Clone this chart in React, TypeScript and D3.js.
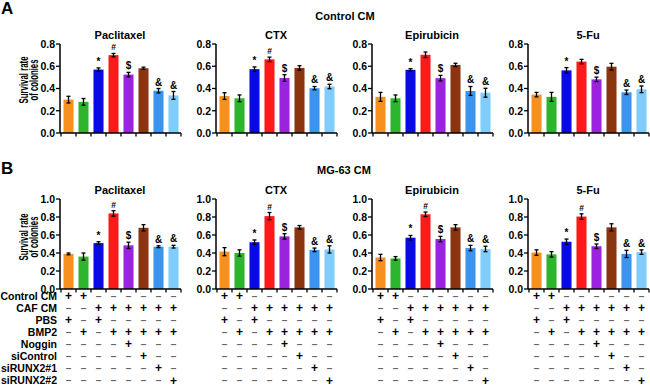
import React from "react";
import * as d3 from "d3";

// groups / treatments
const drugs = ["Paclitaxel", "CTX", "Epirubicin", "5-Fu"];
const conditions = ["Control CM", "CAF CM", "PBS", "BMP2", "Noggin", "siControl", "siRUNX2#1", "siRUNX2#2"];
const conditionSigns = [
  ["+", "+", "–", "–", "–", "–", "–", "–"],
  ["–", "–", "+", "+", "+", "+", "+", "+"],
  ["+", "–", "+", "–", "–", "–", "–", "–"],
  ["–", "+", "–", "+", "+", "+", "+", "+"],
  ["–", "–", "–", "–", "+", "–", "–", "–"],
  ["–", "–", "–", "–", "–", "+", "–", "–"],
  ["–", "–", "–", "–", "–", "–", "+", "–"],
  ["–", "–", "–", "–", "–", "–", "–", "+"],
];
const barColors = ["#f7901e", "#2db52d", "#0a0ae6", "#ff1a1a", "#9b22de", "#8b3510", "#3a95ee", "#80cdfb"];

// A: Control CM
const controlMeans = [
  [0.3, 0.28, 0.57, 0.7, 0.525, 0.582, 0.38, 0.338],
  [0.332, 0.312, 0.574, 0.662, 0.494, 0.585, 0.403, 0.418],
  [0.325, 0.312, 0.568, 0.703, 0.493, 0.612, 0.378, 0.362],
  [0.345, 0.325, 0.563, 0.642, 0.482, 0.596, 0.366, 0.393],
];
const controlErrs = [
  [0.03, 0.03, 0.015, 0.015, 0.02, 0.01, 0.02, 0.035],
  [0.03, 0.03, 0.02, 0.02, 0.03, 0.02, 0.015, 0.02],
  [0.04, 0.03, 0.01, 0.025, 0.025, 0.015, 0.04, 0.04],
  [0.02, 0.04, 0.025, 0.02, 0.02, 0.03, 0.02, 0.03],
];
const controlMarks = [
  ["", "", "*", "#", "$", "", "&", "&"],
  ["", "", "*", "#", "$", "", "&", "&"],
  ["", "", "*", "", "$", "", "&", "&"],
  ["", "", "*", "", "$", "", "&", "&"],
];

// B: MG-63 CM
const mgMeans = [
  [0.39, 0.36, 0.51, 0.84, 0.485, 0.68, 0.47, 0.47],
  [0.415, 0.4, 0.52, 0.81, 0.585, 0.685, 0.435, 0.44],
  [0.35, 0.34, 0.57, 0.83, 0.555, 0.685, 0.455, 0.445],
  [0.405, 0.385, 0.525, 0.805, 0.475, 0.685, 0.39, 0.41],
];
const mgErrs = [
  [0.01, 0.04, 0.015, 0.03, 0.035, 0.035, 0.01, 0.015],
  [0.045, 0.035, 0.025, 0.04, 0.03, 0.02, 0.02, 0.04],
  [0.035, 0.02, 0.025, 0.025, 0.03, 0.03, 0.03, 0.03],
  [0.03, 0.03, 0.03, 0.03, 0.025, 0.04, 0.04, 0.025],
];
const mgMarks = [
  ["", "", "*", "#", "$", "", "&", "&"],
  ["", "", "*", "#", "$", "", "&", "&"],
  ["", "", "*", "#", "$", "", "&", "&"],
  ["", "", "*", "#", "$", "", "&", "&"],
];

const ticksA = [0, 0.2, 0.4, 0.6, 0.8];
const ticksB = [0, 0.2, 0.4, 0.6, 0.8, 1.0];

const FONT = "'Liberation Sans', Arial, sans-serif";
const panelX = [60, 216, 372, 528];
const plotW = 120;
const fmt = d3.format(".1f");

function Panel({ x0, top, bottom, yMax, ticks, means, errs, marks, title }) {
  const x = d3.scaleBand().domain(d3.range(8)).range([x0 + 1, x0 + 1 + plotW]).paddingInner(0.33).paddingOuter(0.165);
  const y = d3.scaleLinear().domain([0, yMax]).range([bottom, top]);
  const step = x.step();
  const bounds = d3.range(9).map((i) => x0 + 1 + i * step);
  return (
    <g>
      <text x={x0 + 60} y={top - 5} textAnchor="middle" fontSize={11} fontWeight="bold">
        {title}
      </text>
      {means.map((v, i) => {
        const cx = x(i) + x.bandwidth() / 2;
        const e = errs[i];
        return (
          <g key={i}>
            <rect x={x(i)} y={y(v)} width={x.bandwidth()} height={bottom - y(v)} fill={barColors[i]} />
            <line x1={cx} x2={cx} y1={y(v - e)} y2={y(v + e)} stroke="#000" strokeWidth={1.3} />
            <line x1={cx - 2} x2={cx + 2} y1={y(v + e)} y2={y(v + e)} stroke="#000" strokeWidth={1.3} />
            <line x1={cx - 2} x2={cx + 2} y1={y(v - e)} y2={y(v - e)} stroke="#000" strokeWidth={1.3} />
            {marks[i] && (
              <text x={cx} y={y(v + e) - 3} textAnchor="middle" fontSize={marks[i] === "#" ? 8.5 : 10} fontWeight="bold">
                {marks[i]}
              </text>
            )}
          </g>
        );
      })}
      <line x1={x0} x2={x0} y1={top} y2={bottom} stroke="#000" strokeWidth={1.5} />
      <line x1={x0} x2={x0 + plotW + 1} y1={bottom} y2={bottom} stroke="#000" strokeWidth={1.5} />
      {ticks.map((t) => (
        <g key={t}>
          <line x1={x0 - 4} x2={x0} y1={y(t)} y2={y(t)} stroke="#000" strokeWidth={1.3} />
          <text x={x0 - 5} y={y(t) + 3.8} textAnchor="end" fontSize={10.5} fontWeight="bold">
            {fmt(t)}
          </text>
        </g>
      ))}
      {bounds.map((b, i) => (
        <line key={i} x1={b} x2={b} y1={bottom} y2={bottom + 3.5} stroke="#000" strokeWidth={1.3} />
      ))}
    </g>
  );
}

function YLabel({ cy }) {
  return (
    <g fontSize={12} fontWeight="bold" textAnchor="middle">
      <text transform={`translate(28,${cy}) rotate(-90)`} textLength={47} lengthAdjust="spacingAndGlyphs">
        Survival rate
      </text>
      <text transform={`translate(37.5,${cy}) rotate(-90)`} textLength={41} lengthAdjust="spacingAndGlyphs">
        of colonies
      </text>
    </g>
  );
}

export default function App() {
  const rowY = d3.scalePoint().domain(conditions).range([296, 380.5]);
  const colX = d3.scaleBand().domain(d3.range(8)).range([1, 1 + plotW]).paddingInner(0.33).paddingOuter(0.165);
  return (
    <svg width={650} height={386} style={{ position: "absolute", left: 0, top: 0, background: "#fff" }} fontFamily={FONT}>
      <text x={1} y={14} fontSize={17} fontWeight="bold">A</text>
      <text x={1} y={174} fontSize={17} fontWeight="bold">B</text>
      <text x={345} y={20} textAnchor="middle" fontSize={11} fontWeight="bold">Control CM</text>
      <text x={344} y={174} textAnchor="middle" fontSize={11} fontWeight="bold">MG-63 CM</text>
      <YLabel cy={80} />
      <YLabel cy={237} />
      {drugs.map((d, i) => (
        <Panel key={"a" + d} x0={panelX[i]} top={44} bottom={133} yMax={0.8} ticks={ticksA}
          means={controlMeans[i]} errs={controlErrs[i]} marks={controlMarks[i]} title={d} />
      ))}
      {drugs.map((d, i) => (
        <Panel key={"b" + d} x0={panelX[i]} top={199} bottom={289} yMax={1.0} ticks={ticksB}
          means={mgMeans[i]} errs={mgErrs[i]} marks={mgMarks[i]} title={d} />
      ))}
      {conditions.map((c, r) => (
        <g key={c}>
          <text x={57} y={rowY(c) + 3.8} textAnchor="end" fontSize={10.5} fontWeight="bold">{c}</text>
          {panelX.map((px) =>
            conditionSigns[r].map((s, j) => (
              <text key={px + "-" + j} x={px + colX(j) + colX.bandwidth() / 2} y={rowY(c) + (s === "+" ? 4 : 3.5)}
                textAnchor="middle" fontSize={s === "+" ? 12 : 10} fontWeight="bold"
                fill={s === "+" ? "#000" : "#666"}>
                {s}
              </text>
            ))
          )}
        </g>
      ))}
    </svg>
  );
}
